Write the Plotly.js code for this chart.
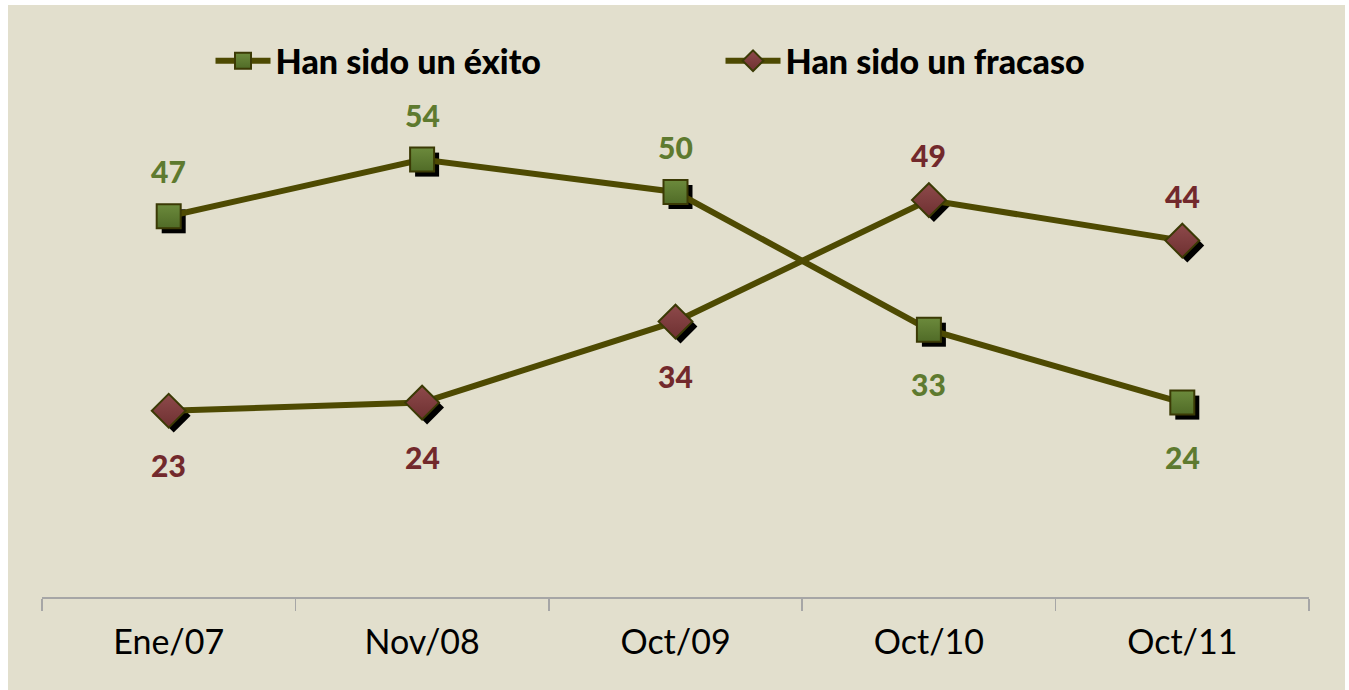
<!DOCTYPE html>
<html><head><meta charset="utf-8">
<script src="https://cdn.plot.ly/plotly-3.0.1.min.js"></script>
<style>
html,body{margin:0;padding:0;background:#ffffff;}
#chart{position:absolute;left:8px;top:5px;width:1337px;height:685px;}
</style></head>
<body><div id="chart"></div>
<script>
const categories = ["Ene/07", "Nov/08", "Oct/09", "Oct/10", "Oct/11"];
const seriesNames = ["Han sido un éxito", "Han sido un fracaso"];
const exito = [47, 54, 50, 33, 24];
const fracaso = [23, 24, 34, 49, 44];

const bg = "#e2dfcd";
const lineColor = "#4e4a02";
const greenFill = "#6c8a3c";
const redFill = "#8e4a4b";
const greenText = "#5e7a2f";
const redText = "#72292c";
const font = "Lato, 'Open Sans', sans-serif";

const pxPerX = 1267 / 5, pxPerY = 567 / 70, sh = 5;
const dx = sh / pxPerX, dy = sh / pxPerY;

const traces = [
  {x: categories, y: exito, type: "scatter", mode: "markers", xaxis: "x", yaxis: "y", showlegend: false, hoverinfo: "skip",
   marker: {symbol: "square", size: 24, color: "#000000"}},
  {x: categories, y: fracaso, type: "scatter", mode: "markers", xaxis: "x", yaxis: "y", showlegend: false, hoverinfo: "skip",
   marker: {symbol: "diamond", size: 26, color: "#000000"}},
  {x: categories, y: exito, name: seriesNames[0], type: "scatter", mode: "lines+markers", xaxis: "x2", yaxis: "y2",
   line: {color: lineColor, width: 6},
   marker: {symbol: "square", size: 24, color: greenFill, line: {color: "#3b3a05", width: 2},
            gradient: {type: "vertical", color: "#506b27"}}},
  {x: categories, y: fracaso, name: seriesNames[1], type: "scatter", mode: "lines+markers", xaxis: "x2", yaxis: "y2",
   line: {color: lineColor, width: 6},
   marker: {symbol: "diamond", size: 26, color: redFill, line: {color: "#3b3a05", width: 2},
            gradient: {type: "vertical", color: "#6e3031"}}}
];

const annotations = [];
function addLabels(vals, other, color) {
  vals.forEach((v, i) => {
    const above = v > other[i];
    annotations.push({x: categories[i], y: v, xref: "x2", yref: "y2", text: String(v), showarrow: false,
      yshift: above ? 45 : -54, font: {family: font, size: 30, color: color, weight: 900}});
  });
}
addLabels(exito, fracaso, greenText);
addLabels(fracaso, exito, redText);

const layout = {
  width: 1337, height: 685,
  paper_bgcolor: bg, plot_bgcolor: bg,
  margin: {l: 34, r: 36, t: 25, b: 93},
  showlegend: true,
  legend: {orientation: "h", x: 0.133, xanchor: "left", y: 0.945, yanchor: "middle",
           bgcolor: "rgba(0,0,0,0)", font: {family: font, size: 34, color: "#000000", weight: 900},
           itemwidth: 55, entrywidth: 440, entrywidthmode: "pixels", itemsizing: "trace"},
  xaxis: {type: "category", range: [-0.5 - dx, 4.5 - dx], visible: false, fixedrange: true},
  yaxis: {range: [0 + dy, 70 + dy], visible: false, fixedrange: true},
  xaxis2: {type: "category", overlaying: "x", side: "bottom", range: [-0.5, 4.5],
           showline: true, linecolor: "#a6a6a6", linewidth: 1.5, showgrid: false, zeroline: false,
           ticks: "outside", tickson: "boundaries", ticklen: 12, tickcolor: "#a6a6a6", tickwidth: 1.5,
           ticklabelstandoff: 15, tickfont: {family: font, size: 34, color: "#000000"}},
  yaxis2: {overlaying: "y", range: [0, 70], visible: false, fixedrange: true},
  annotations: annotations
};

Plotly.newPlot("chart", traces, layout, {displayModeBar: false, staticPlot: true});
</script></body></html>
